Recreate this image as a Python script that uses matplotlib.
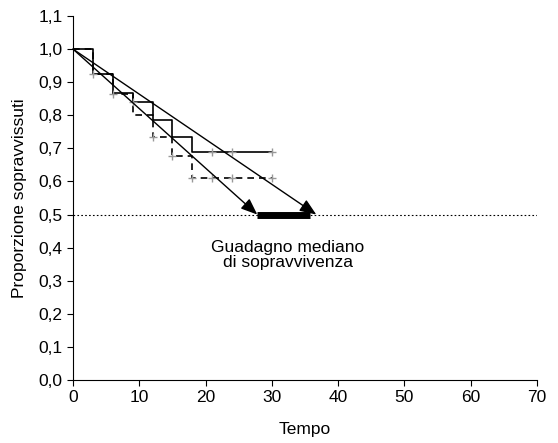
import matplotlib.pyplot as plt
from matplotlib.ticker import FuncFormatter

plt.rcParams['font.family'] = ['Liberation Sans', 'DejaVu Sans']

# curva 1 (linea continua)
t_a = [0, 3, 6, 9, 12, 15, 18, 30]
s_a = [1.0, 0.925, 0.868, 0.841, 0.787, 0.735, 0.688, 0.688]
cens_a_t = [21, 24, 30]
cens_a_s = [0.688, 0.688, 0.688]

# curva 2 (tratteggiata)
t_b = [0, 3, 6, 9, 12, 15, 18, 30]
s_b = [1.0, 0.925, 0.865, 0.80, 0.735, 0.678, 0.609, 0.609]
cens_b_t = [3, 6, 9, 12, 15, 18, 21, 24, 30]
cens_b_s = [0.925, 0.865, 0.841, 0.735, 0.678, 0.609, 0.609, 0.609, 0.609]

# mediane
med_a = 27.8
med_b = 36.7
bar_start, bar_end = 27.8, 35.8

fs = 12.5

fig = plt.figure(figsize=(5.58, 4.43), dpi=100)
ax = fig.add_axes([0.1308, 0.1422, 0.8316, 0.8217])

ax.axhline(0.5, color='black', lw=0.8, ls=(0, (1.5, 2)), zorder=1)

ax.step(t_a, s_a, where='post', color='black', lw=1.2, zorder=3)
ax.step(t_b, s_b, where='post', color='black', lw=1.2, ls=(0, (4, 3)), zorder=3)
ax.plot(cens_a_t, cens_a_s, ls='none', marker='+', ms=6, mew=1, color='#999999', zorder=4)
ax.plot(cens_b_t, cens_b_s, ls='none', marker='+', ms=6, mew=1, color='#999999', zorder=4)

for m in (med_a, med_b):
    ax.annotate('', xy=(m, 0.5), xytext=(0, 1.0),
                arrowprops=dict(arrowstyle='-|>,head_length=1.0,head_width=0.4',
                                color='black', lw=1.0, shrinkA=0, shrinkB=0),
                zorder=5)

ax.plot([bar_start, bar_end], [0.5, 0.5], color='black', lw=5, solid_capstyle='butt', zorder=4)

ax.text(32.4, 0.378, 'Guadagno mediano\ndi sopravvivenza', ha='center', va='center',
        fontsize=fs, linespacing=1.0)

ax.set_xlim(0, 70)
ax.set_ylim(0, 1.1)
ax.set_xticks(range(0, 71, 10))
ax.set_yticks([i / 10 for i in range(12)])
ax.yaxis.set_major_formatter(FuncFormatter(lambda v, p: f'{v:.1f}'.replace('.', ',')))
ax.tick_params(labelsize=fs, length=4, width=0.8, direction='out')
ax.spines['top'].set_visible(False)
ax.spines['right'].set_visible(False)
ax.set_xlabel('Tempo', fontsize=fs, labelpad=12)
ax.set_ylabel('Proporzione sopravvissuti', fontsize=fs, labelpad=8)

fig.savefig('out.png', dpi=100)
